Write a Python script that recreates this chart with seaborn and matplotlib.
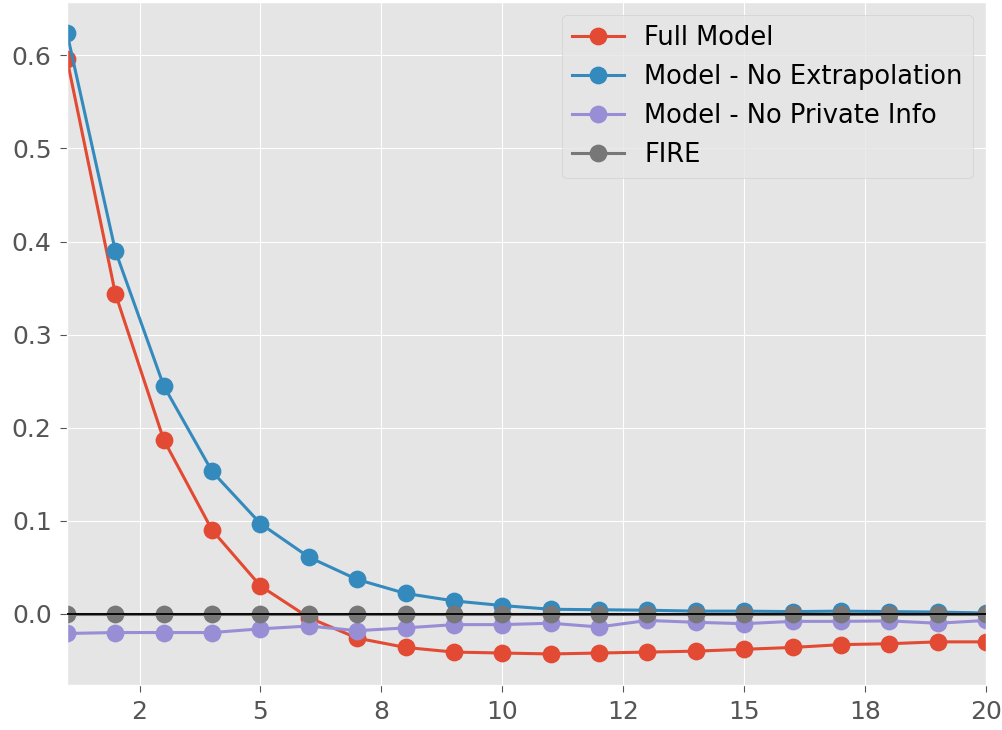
import numpy as np
import pandas as pd
import seaborn as sns
import matplotlib.pyplot as plt
from matplotlib.ticker import FormatStrFormatter

horizon = list(range(1, 21))
full_model = [0.596, 0.344, 0.187, 0.090, 0.030, -0.004, -0.026, -0.036, -0.041, -0.042,
              -0.043, -0.042, -0.041, -0.040, -0.038, -0.036, -0.033, -0.032, -0.030, -0.030]
no_extrap = [0.624, 0.390, 0.245, 0.153, 0.097, 0.061, 0.037, 0.022, 0.014, 0.009,
             0.005, 0.0045, 0.004, 0.003, 0.003, 0.0025, 0.003, 0.0025, 0.002, 0.001]
no_private = [-0.021, -0.020, -0.020, -0.020, -0.016, -0.013, -0.018, -0.015, -0.0115, -0.0115,
              -0.010, -0.014, -0.007, -0.009, -0.0105, -0.008, -0.008, -0.0075, -0.010, -0.007]
fire = [0.0] * 20

labels = ["Full Model", "Model - No Extrapolation", "Model - No Private Info", "FIRE"]
series = [full_model, no_extrap, no_private, fire]
colors = ["#E24A33", "#348ABD", "#988ED5", "#777777"]

plt.style.use("ggplot")
fig, ax = plt.subplots(figsize=(10.02, 7.3), dpi=100)
fig.subplots_adjust(left=67/1002, right=986/1002, top=1-2/730, bottom=1-685/730)

for lab, vals, col in zip(labels, series, colors):
    df = pd.DataFrame({"h": horizon, "v": vals})
    sns.lineplot(data=df, x="h", y="v", ax=ax, color=col, marker="o", markersize=12.8,
                 markeredgewidth=0, linewidth=2.2, label=lab)

ax.axhline(0, color="black", linewidth=1.3, zorder=5)
ax.set_xlim(1, 20)
ax.set_xticks([2.5, 5, 7.5, 10, 12.5, 15, 17.5, 20])
ax.xaxis.set_major_formatter(FormatStrFormatter("%.0f"))
ax.set_xlabel("")
ax.set_ylabel("")
ax.tick_params(labelsize=18, length=5, pad=6)
ax.legend(loc="upper right", fontsize=18.5)

fig.savefig("out.png", dpi=100)
